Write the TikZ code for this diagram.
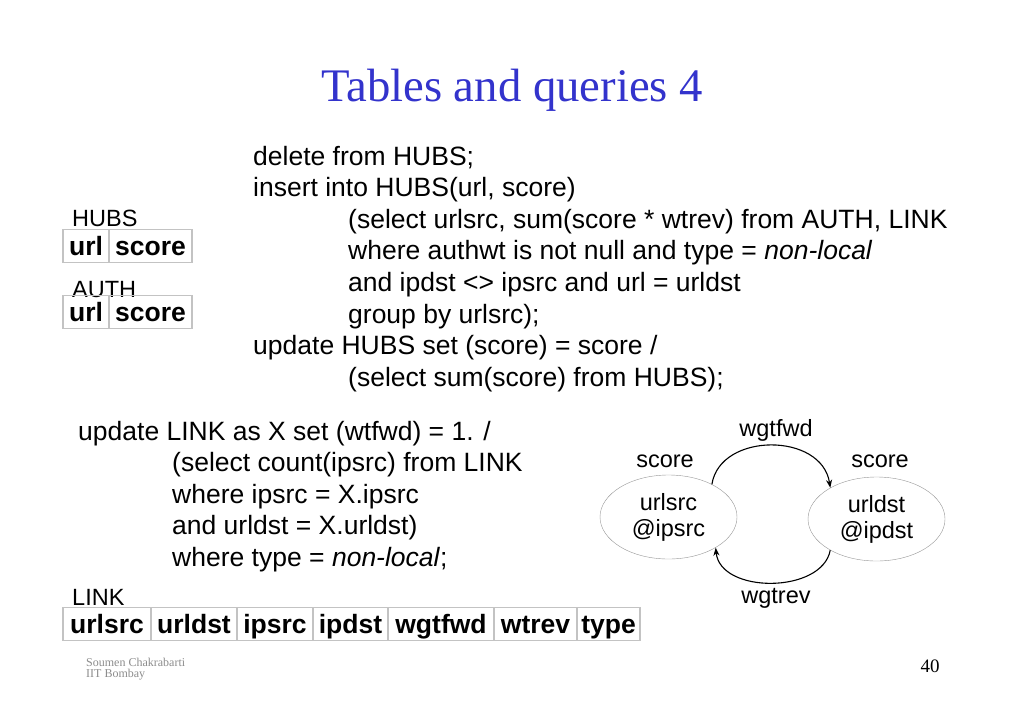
\documentclass[tikz,border=0pt]{standalone}
\usepackage{fontspec}
\setmainfont{Liberation Sans}
\newfontfamily\titlefont{Liberation Serif}
\usetikzlibrary{shapes,arrows.meta,positioning}
\definecolor{titleblue}{RGB}{51,51,204}
\definecolor{cellgray}{RGB}{195,195,195}
\definecolor{ovalgray}{RGB}{150,150,150}
\definecolor{footgray}{RGB}{140,140,140}

\begin{document}
\begin{tikzpicture}[x=1pt,y=1pt,
		sql/.style={anchor=base west, inner sep=0pt, font=\fontsize{26.5}{31.6}\selectfont},
		tlabel/.style={anchor=base west, inner sep=0pt, font=\fontsize{23.5}{26}\selectfont},
		cell/.style={draw=cellgray, line width=1.2pt, minimum height=33pt, inner sep=0pt, text height=19pt, text depth=0pt, font=\fontsize{26.5}{30}\selectfont\bfseries},
		oval/.style={draw=ovalgray, ellipse, minimum width=137pt, minimum height=84pt, align=center, inner sep=0pt, font=\fontsize{23.5}{26}\selectfont},
		glabel/.style={inner sep=0pt, font=\fontsize{23.5}{26}\selectfont},
		flow/.style={line width=1.1pt, -{Stealth[length=8pt,width=6pt]}}]
				\useasboundingbox (0,0) rectangle (1024,-709);
				
				% Title
				\node[anchor=base, text=titleblue, font=\titlefont\fontsize{46.7}{50}\selectfont] (title) at (512,-101) {Tables and queries 4};
				
				% HUBS and AUTH tables
				\node[tlabel] (hubs) at (72,-226) {HUBS};
				\node[cell, minimum width=46pt] (hurl) at (86,-246) {url};
				\node[cell, minimum width=83pt] (hscore) at (150.5,-246) {score};
				\node[tlabel] (auth) at (72,-297) {AUTH};
				\node[cell, minimum width=46pt] (aurl) at (86,-312) {url};
				\node[cell, minimum width=83pt] (ascore) at (150.5,-312) {score};
				
				% Hub update query
				\node[sql] (q1) at (253,-165) {delete from HUBS;};
				\node[sql] (q2) at (253,-196.6) {insert into HUBS(url, score)};
				\node[sql] (q3) at (348,-228.2) {(select urlsrc, sum(score * wtrev) from AUTH, LINK};
				\node[sql] (q4) at (348,-259.8) {where authwt is not null and type = \textit{non-local}};
				\node[sql] (q5) at (348,-291.4) {and ipdst <> ipsrc and url = urldst};
				\node[sql] (q6) at (348,-323) {group by urlsrc);};
				\node[sql] (q7) at (253,-354.6) {update HUBS set (score) = score /};
				\node[sql] (q8) at (348,-386.2) {(select sum(score) from HUBS);};
				
				% Link weight query
				\node[sql] (u1) at (78,-440) {update LINK as X set (wtfwd) = 1. /};
				\node[sql] (u2) at (172,-471.6) {(select count(ipsrc) from LINK};
				\node[sql] (u3) at (172,-503.2) {where ipsrc = X.ipsrc};
				\node[sql] (u4) at (172,-534.8) {and urldst = X.urldst)};
				\node[sql] (u5) at (172,-566.4) {where type = \textit{non-local};};
				
				% LINK table
				\node[tlabel] (link) at (72,-605) {LINK};
				\node[cell, minimum width=88pt] (lsrc) at (107,-624) {urlsrc};
				\node[cell, minimum width=86pt] (ldst) at (194,-624) {urldst};
				\node[cell, minimum width=76pt] (lipsrc) at (275,-624) {ipsrc};
				\node[cell, minimum width=75pt] (lipdst) at (350.5,-624) {ipdst};
				\node[cell, minimum width=106pt] (lfwd) at (441,-624) {wgtfwd};
				\node[cell, minimum width=83pt] (lrev) at (535.5,-624) {wtrev};
				\node[cell, minimum width=63pt] (ltype) at (608.5,-624) {type};
				
				% Graph
				\node[oval] (src) at (668.5,-517) {urlsrc\\@ipsrc};
				\node[oval] (dst) at (876.5,-519) {urldst\\@ipdst};
				\node[glabel] (srcscore) at (665,-461) {score};
				\node[glabel] (dstscore) at (880,-461) {score};
				\node[glabel] (fwd) at (776,-430) {wgtfwd};
				\node[glabel] (rev) at (776,-598) {wgtrev};
				\draw[flow] (src.37) .. controls (720,-432) and (822,-432) .. (dst.146);
				\draw[flow] (dst.-146) .. controls (822,-594) and (720,-594) .. (src.-33);
				
				% Footer
				\node[anchor=base west, inner sep=0pt, text=footgray, font=\titlefont\fontsize{12}{12}\selectfont] (author) at (86,-666) {Soumen Chakrabarti};
				\node[anchor=base west, inner sep=0pt, text=footgray, font=\titlefont\fontsize{12}{12}\selectfont] (inst) at (86,-677) {IIT Bombay};
				\node[anchor=base, inner sep=0pt, font=\titlefont\fontsize{19}{20}\selectfont] (page) at (930,-672) {40};
			\end{tikzpicture}
\end{document}
